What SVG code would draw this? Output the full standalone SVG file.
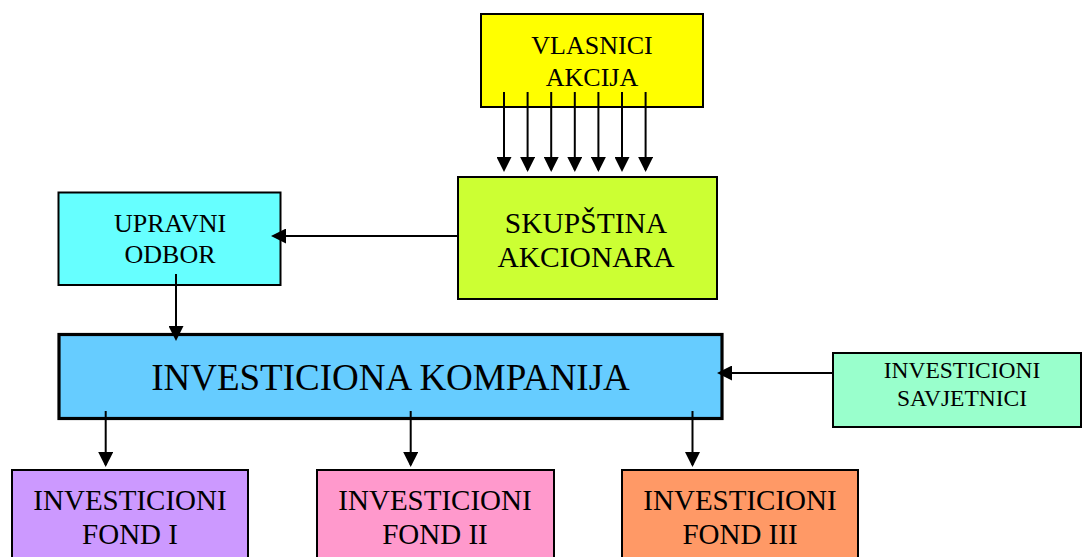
<svg xmlns="http://www.w3.org/2000/svg" width="1082" height="557" viewBox="0 0 1082 557">
  <style>
    .box { stroke: #000; stroke-width: 2; }
    .thick { stroke-width: 3.2; }
    .lbl { font-family: "Liberation Serif", "Times New Roman", Times, "DejaVu Serif", serif; fill: #000; text-anchor: middle; }
    .conn { stroke: #000; stroke-width: 2; fill: none; marker-end: url(#arrow); }
  </style>
  <defs>
    <marker id="arrow" markerUnits="userSpaceOnUse" markerWidth="15" markerHeight="15" refX="13" refY="7.5" orient="auto">
      <path d="M0,0 L15,7.5 L0,15 z" fill="#000"/>
    </marker>
  </defs>

  <rect width="1082" height="557" fill="#fff"/>

  <!-- shareholders -->
  <g id="vlasnici-akcija">
    <rect class="box" x="481" y="14" width="222" height="93" fill="#FFFF00"/>
    <text class="lbl" font-size="26" x="592" y="54">VLASNICI</text>
    <text class="lbl" font-size="26" x="592" y="86">AKCIJA</text>
  </g>

  <!-- general assembly -->
  <g id="skupstina-akcionara">
    <rect class="box" x="458" y="177" width="259" height="122" fill="#CCFF33"/>
    <text class="lbl" font-size="29.5" x="586" y="233">SKUPŠTINA</text>
    <text class="lbl" font-size="29.5" x="586" y="267">AKCIONARA</text>
  </g>

  <!-- management board -->
  <g id="upravni-odbor">
    <rect class="box" x="58.5" y="192.5" width="222" height="92.5" fill="#66FFFF"/>
    <text class="lbl" font-size="26" x="170" y="232">UPRAVNI</text>
    <text class="lbl" font-size="26" x="170" y="263">ODBOR</text>
  </g>

  <!-- investment company -->
  <g id="investiciona-kompanija">
    <rect class="box thick" x="59" y="334.5" width="663" height="84" fill="#66CCFF"/>
    <text class="lbl" font-size="37" x="390.5" y="390">INVESTICIONA KOMPANIJA</text>
  </g>

  <!-- investment advisers -->
  <g id="investicioni-savjetnici">
    <rect class="box" x="833" y="353" width="248" height="74" fill="#99FFCC"/>
    <text class="lbl" font-size="23.5" x="962" y="378">INVESTICIONI</text>
    <text class="lbl" font-size="23.5" x="962" y="406">SAVJETNICI</text>
  </g>

  <!-- funds -->
  <g id="fond-1">
    <rect class="box" x="12" y="470" width="236" height="100" fill="#CC99FF"/>
    <text class="lbl" font-size="29" x="130" y="510">INVESTICIONI</text>
    <text class="lbl" font-size="29" x="130" y="544">FOND I</text>
  </g>
  <g id="fond-2">
    <rect class="box" x="317" y="470" width="237" height="100" fill="#FF99CC"/>
    <text class="lbl" font-size="29" x="435" y="510">INVESTICIONI</text>
    <text class="lbl" font-size="29" x="435" y="544">FOND II</text>
  </g>
  <g id="fond-3">
    <rect class="box" x="622" y="470" width="236" height="100" fill="#FF9966"/>
    <text class="lbl" font-size="29" x="740" y="510">INVESTICIONI</text>
    <text class="lbl" font-size="29" x="740" y="544">FOND III</text>
  </g>

  <!-- connectors -->
  <g id="connectors">
    <line class="conn" x1="504" y1="92" x2="504" y2="170"/>
    <line class="conn" x1="527.6" y1="92" x2="527.6" y2="170"/>
    <line class="conn" x1="551.2" y1="92" x2="551.2" y2="170"/>
    <line class="conn" x1="574.8" y1="92" x2="574.8" y2="170"/>
    <line class="conn" x1="598.4" y1="92" x2="598.4" y2="170"/>
    <line class="conn" x1="622" y1="92" x2="622" y2="170"/>
    <line class="conn" x1="645.6" y1="92" x2="645.6" y2="170"/>

    <line class="conn" x1="457" y1="236" x2="273" y2="236"/>
    <line class="conn" x1="176" y1="274" x2="176" y2="339"/>
    <line class="conn" x1="833" y1="373" x2="719" y2="373"/>

    <line class="conn" x1="105.7" y1="411" x2="105.7" y2="465"/>
    <line class="conn" x1="410.7" y1="411" x2="410.7" y2="465"/>
    <line class="conn" x1="692.5" y1="411" x2="692.5" y2="465"/>
  </g>
</svg>
